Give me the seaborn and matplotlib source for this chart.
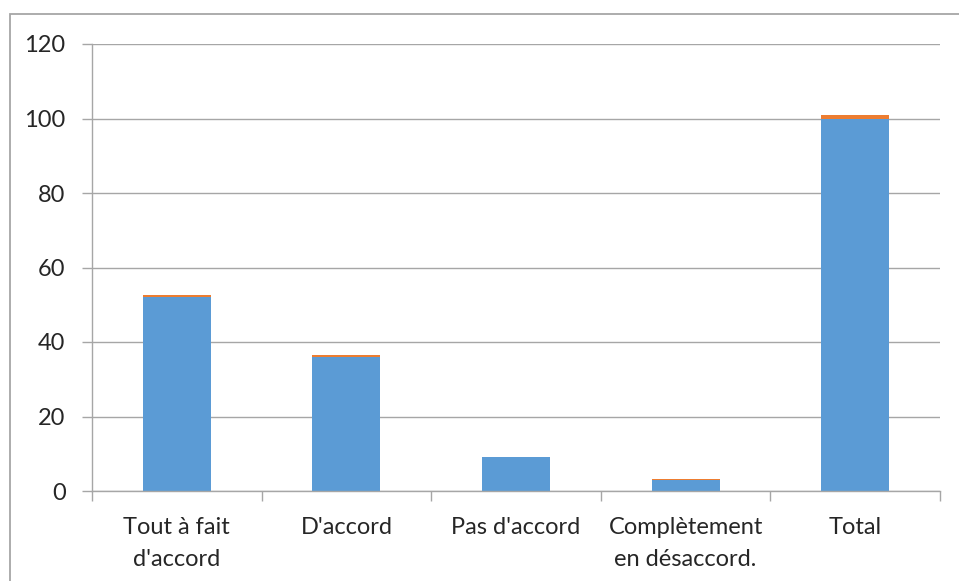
import matplotlib.pyplot as plt
import matplotlib.patches as patches
import pandas as pd
import seaborn as sns

# Data
categories = ["Tout à fait\nd'accord", "D'accord", "Pas d'accord", "Complètement\nen désaccord.", "Total"]
blue_values = [52, 36, 9, 3, 100]
orange_values = [0.5, 0.4, 0.15, 0.15, 0.9]

df = pd.DataFrame({'categorie': categories, 'serie1': blue_values, 'serie2': orange_values})
df['cumul'] = df['serie1'] + df['serie2']

sns.set_theme(style='white')
plt.rcParams['font.family'] = ['Lato', 'DejaVu Sans']

fig = plt.figure(figsize=(9.59, 5.81), dpi=100)
ax = fig.add_axes([92 / 959, 90 / 581, 848 / 959, 447 / 581])

# stacked: draw total height in orange, then blue on top of it
sns.barplot(data=df, x='categorie', y='cumul', color='#ED7D31', saturation=1,
            width=0.4, ax=ax, order=categories, linewidth=0)
sns.barplot(data=df, x='categorie', y='serie1', color='#5B9BD5', saturation=1,
            width=0.4, ax=ax, order=categories, linewidth=0)

ax.set_ylim(0, 120)
ax.set_xlim(-0.5, 4.5)
ax.set_yticks(range(0, 121, 20))
ax.yaxis.grid(True, color='#A6A6A6', linewidth=1)
ax.set_axisbelow(True)
ax.set_xlabel('')
ax.set_ylabel('')

for side in ['top', 'right']:
    ax.spines[side].set_visible(False)
for side in ['left', 'bottom']:
    ax.spines[side].set_color('#A6A6A6')
    ax.spines[side].set_linewidth(1)

# ticks sit between the categories, labels in the middle
ax.set_xticks([i + 0.5 for i in range(-1, 5)], minor=False)
ax.set_xticklabels([])
ax.set_xticks(range(5), minor=True)
ax.set_xticklabels(categories, minor=True, fontsize=17, linespacing=1.65)
ax.tick_params(axis='x', which='major', direction='out', length=7, color='#A6A6A6', width=1, bottom=True)
ax.tick_params(axis='x', which='minor', length=0, pad=19, bottom=True)
ax.tick_params(axis='y', direction='out', length=7, color='#A6A6A6', width=1, labelsize=17, pad=12, left=True)

# outer chart frame (cropped at right and bottom)
frame = patches.Rectangle((10 / 959, -0.05), 1.1, (581 - 14) / 581 + 0.05,
                          transform=fig.transFigure, fill=False,
                          edgecolor='#A6A6A6', linewidth=1.3, clip_on=False)
fig.patches.append(frame)

fig.savefig('out.png', dpi=100)
